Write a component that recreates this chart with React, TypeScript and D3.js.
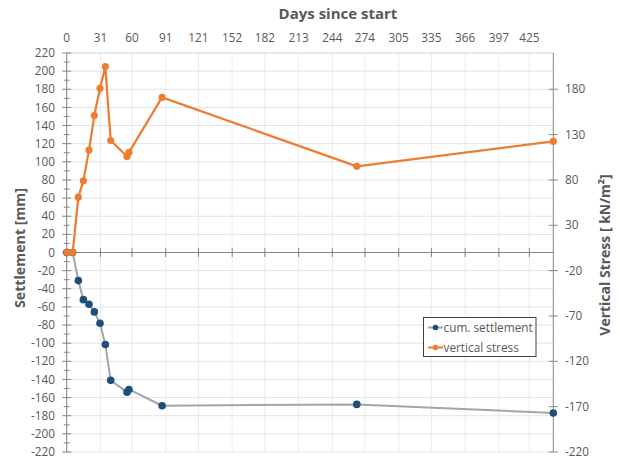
import React from "react";
import * as d3 from "d3";

const days = [0, 5.5, 10.7, 15.3, 20.5, 25.4, 30.6, 35.5, 40.4, 55.4, 57.2, 87.6, 266.5, 447];
const settlement = [0, 0, -31, -52, -57, -65.5, -78, -101.5, -141, -154, -151, -169, -167.5, -177];
const stress = [0, 0, 61, 79, 113, 151, 181, 205, 123.5, 106, 110.5, 171, 95, 122.5];
const topTicks = [0, 31, 60, 91, 121, 152, 182, 213, 244, 274, 305, 335, 366, 397, 425];
const leftTicks = d3.range(-220, 221, 20);
const leftMinor = d3.range(-210, 220, 20);
const rightTicks = d3.range(-220, 221, 50);

const W = 620, H = 461;
const L = 66.7, R = 553.3, T = 53, B = 452;
const FONT = "'Open Sans', sans-serif";
const TXT = "#595959";

export default function App() {
  const x = d3.scaleLinear().domain([0, 447]).range([L, R]);
  const y = d3.scaleLinear().domain([-220, 220]).range([B, T]);
  const yR = d3.scaleLinear().domain([-220, 220]).range([B, T]);
  const setPts = days.map((d, i) => [x(d), y(settlement[i])] as [number, number]);
  const strPts = days.map((d, i) => [x(d), yR(stress[i])] as [number, number]);
  const line = d3.line();
  const y0 = y(0);
  return (
    <svg width={W} height={H} style={{ position: "absolute", left: 0, top: 0, background: "#fff" }}>
      <rect x={0} y={0} width={W} height={H} fill="#fff" />
      {topTicks.map((t) => (
        <line key={"vg" + t} x1={x(t)} x2={x(t)} y1={T} y2={B} stroke="#ebebeb" strokeWidth={1} />
      ))}
      {leftTicks.map((t) => (
        <line key={"hg" + t} x1={L} x2={R} y1={y(t)} y2={y(t)} stroke={t === 220 ? "#c5d0e3" : "#dde4ef"} strokeWidth={1} />
      ))}
      <line x1={L} x2={L} y1={T} y2={B} stroke="#868686" strokeWidth={1} />
      {leftTicks.map((t) => (
        <line key={"lt" + t} x1={L - 4.5} x2={L + 4.5} y1={y(t)} y2={y(t)} stroke="#868686" />
      ))}
      {leftMinor.map((t) => (
        <line key={"lm" + t} x1={L - 3} x2={L + 3} y1={y(t)} y2={y(t)} stroke="#868686" />
      ))}
      {leftTicks.map((t) => (
        <text key={"ll" + t} x={55} y={y(t)} dy="0.35em" textAnchor="end" fontFamily={FONT} fontSize={11.8} fill={TXT}>
          {t}
        </text>
      ))}
      <line x1={R} x2={R} y1={T} y2={B} stroke="#868686" strokeWidth={1} />
      {rightTicks.map((t) => (
        <line key={"rt" + t} x1={R - 4.5} x2={R + 4.5} y1={yR(t)} y2={yR(t)} stroke="#868686" />
      ))}
      {rightTicks.map((t) => (
        <text key={"rl" + t} x={565} y={yR(t)} dy="0.35em" textAnchor="start" fontFamily={FONT} fontSize={11.8} fill={TXT}>
          {t}
        </text>
      ))}
      <line x1={L} x2={R} y1={y0} y2={y0} stroke="#868686" strokeWidth={1} />
      {topTicks.map((t) => (
        <line key={"xt" + t} x1={x(t)} x2={x(t)} y1={y0 - 4.5} y2={y0 + 4.5} stroke="#868686" />
      ))}
      {topTicks.map((t) => (
        <text key={"tl" + t} x={x(t)} y={38} dy="0.35em" textAnchor="middle" fontFamily={FONT} fontSize={11.8} fill={TXT}>
          {t}
        </text>
      ))}
      <text x={338} y={14} dy="0.35em" textAnchor="middle" fontFamily={FONT} fontSize={15} fontWeight="bold" fill={TXT}>
        Days since start
      </text>
      <text transform={`translate(20,248) rotate(-90)`} dy="0.35em" textAnchor="middle" fontFamily={FONT} fontSize={14.2} fontWeight="bold" fill={TXT}>
        Settlement [mm]
      </text>
      <text transform={`translate(605,255) rotate(-90)`} dy="0.35em" textAnchor="middle" fontFamily={FONT} fontSize={14} fontWeight="bold" fill={TXT}>
        Vertical Stress [ kN/m²]
      </text>
      <path d={line(setPts) || ""} fill="none" stroke="#a5a5a5" strokeWidth={2} strokeLinejoin="round" />
      {setPts.map((p, i) => (
        <circle key={"sp" + i} cx={p[0]} cy={p[1]} r={3.8} fill="#1f4e79" />
      ))}
      <path d={line(strPts) || ""} fill="none" stroke="#ed7d31" strokeWidth={2.25} strokeLinejoin="round" />
      {strPts.map((p, i) => (
        <circle key={"op" + i} cx={p[0]} cy={p[1]} r={3.6} fill="#ed7d31" />
      ))}
      <rect x={423.5} y={317.5} width={112.5} height={39} fill="#fff" stroke="#404040" strokeWidth={1} />
      <line x1={428} x2={443} y1={327.5} y2={327.5} stroke="#a5a5a5" strokeWidth={2} />
      <circle cx={435.5} cy={327.5} r={2.8} fill="#1f4e79" />
      <text x={443.5} y={327.5} dy="0.35em" fontFamily={FONT} fontSize={11.8} fill={TXT}>cum. settlement</text>
      <line x1={428} x2={443} y1={347.5} y2={347.5} stroke="#ed7d31" strokeWidth={2} />
      <circle cx={435.5} cy={347.5} r={2.8} fill="#ed7d31" />
      <text x={443.5} y={347.5} dy="0.35em" fontFamily={FONT} fontSize={11.8} fill={TXT}>vertical stress</text>
    </svg>
  );
}
